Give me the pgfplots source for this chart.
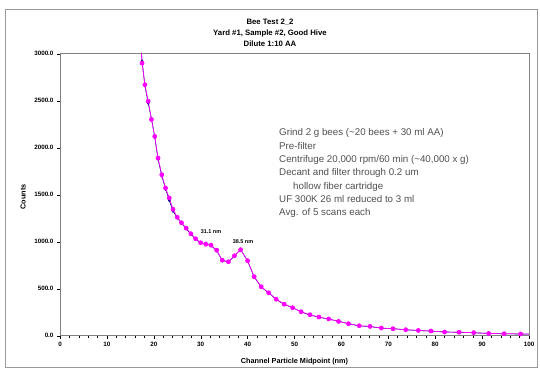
\documentclass[border=0pt]{standalone}
\usepackage{pgfplots}
\pgfplotsset{compat=1.18}
\usepackage{pgfplotstable}
\usepackage{fontspec}
\setmainfont{Liberation Sans}
\definecolor{mag}{HTML}{FF00FF}
\definecolor{navy}{HTML}{000080}
\definecolor{txtgray}{HTML}{505050}
\pgfplotstableread{
x y
17.5 2900
18.1 2670
18.8 2495
19.5 2300
20.2 2120
20.9 1890
21.7 1713
22.5 1571
23.3 1465
24.1 1345
25.0 1260
25.9 1202
26.9 1144
27.9 1085
28.9 1032
30.0 989
31.1 973
32.2 963
33.4 910
34.6 803
35.9 787
37.2 851
38.5 915
40.0 798
41.4 628
42.9 521
44.5 457
46.1 388
47.8 335
49.6 298
51.4 255
53.3 223
55.2 199
57.3 178
59.4 152
61.5 128
63.8 106
66.1 99
68.5 82
71.0 74
73.7 64
76.4 56
79.1 50
82.0 39
85.1 37
88.2 32
91.4 24
94.7 21
98.2 19
}\magdata
\pgfplotstableread{
x y
16.8 3420
17.5 2920
18.1 2660
18.8 2475
19.5 2310
20.2 2110
20.9 1880
21.7 1700
22.5 1560
23.3 1440
24.1 1325
25.0 1255
25.9 1195
26.9 1140
27.9 1080
28.9 1030
30.0 985
31.1 985
32.2 958
33.4 905
34.6 800
35.9 785
37.2 848
38.5 918
40.0 795
41.4 625
42.9 518
44.5 455
46.1 385
47.8 332
49.6 300
51.4 252
53.3 220
55.2 197
57.3 176
59.4 155
61.5 126
63.8 104
66.1 98
68.5 80
71.0 75
73.7 63
76.4 55
79.1 49
82.0 40
85.1 36
88.2 31
91.4 25
94.7 20
98.2 18
101.8 16
}\navydata
\begin{document}
\begin{tikzpicture}[x=1bp,y=1bp]
\path[use as bounding box] (0,0) rectangle (540,370);
\draw[gray!80,line width=0.8bp] (5,3) rectangle (537,361);
\begin{axis}[
  at={(60bp,34.3bp)}, anchor=south west,
  width=469bp, height=282bp, scale only axis,
  xmin=0, xmax=100, ymin=0, ymax=3000,
  xtick={0,10,...,100}, ytick={0,500,...,3000},
  minor x tick num=4,
  tick align=outside,
  major tick length=3bp, minor tick length=2bp,
  axis line style={gray, line width=0.6bp},
  tick style={black, line width=0.4bp},
  xtick pos=bottom, ytick pos=left,
  /pgf/number format/assume math mode=true,
  ticklabel style={font=\fontsize{6.3}{7}\selectfont\bfseries},
  yticklabel style={/pgf/number format/.cd, fixed, fixed zerofill, precision=1, 1000 sep={}},
  xticklabel style={/pgf/number format/.cd, fixed, precision=0},
]
\addplot[navy, line width=0.6bp, mark=diamond*, mark size=1.3bp, mark options={navy}] table {\navydata};
\addplot[mag, line width=0.7bp, forget plot] coordinates {(16.8,3400) (17.5,2900)};
\addplot[mag, line width=0.7bp, forget plot] coordinates {(98.2,19) (101.8,17)};
\addplot[mag, line width=0.7bp, mark=*, mark size=2bp, mark options={fill=mag, draw=mag}] table {\magdata};
\end{axis}
\node[font=\fontsize{7.8}{9}\selectfont\bfseries] at (270,348) {Bee Test 2\_2};
\node[font=\fontsize{7.8}{9}\selectfont\bfseries] at (270,337) {Yard \#1, Sample \#2, Good Hive};
\node[font=\fontsize{7.8}{9}\selectfont\bfseries] at (270,326) {Dilute 1:10 AA};
\node[font=\fontsize{7.3}{8}\selectfont\bfseries] at (294.5,8.5) {Channel Particle Midpoint (nm)};
\node[font=\fontsize{7.3}{8}\selectfont\bfseries, rotate=90] at (23,173) {Counts};
\node[font=\fontsize{5.5}{6}\selectfont\bfseries] at (211,138) {31.1 nm};
\node[font=\fontsize{5.5}{6}\selectfont\bfseries] at (243,128) {38.5 nm};
\begin{scope}[every node/.style={font=\fontsize{9.8}{12}\selectfont, text=txtgray, anchor=base west, inner sep=0pt}]
\node at (279,234.5) {Grind 2 g bees (\textasciitilde 20 bees + 30 ml AA)};
\node at (279,221.0) {Pre-filter};
\node at (279,207.7) {Centrifuge 20,000 rpm/60 min (\textasciitilde 40,000 x g)};
\node at (279,194.3) {Decant and filter through 0.2 um};
\node at (293,181.0) {hollow fiber cartridge};
\node at (279,167.7) {UF 300K 26 ml reduced to 3 ml};
\node at (279,154.3) {Avg. of 5 scans each};
\end{scope}
\end{tikzpicture}
\end{document}
